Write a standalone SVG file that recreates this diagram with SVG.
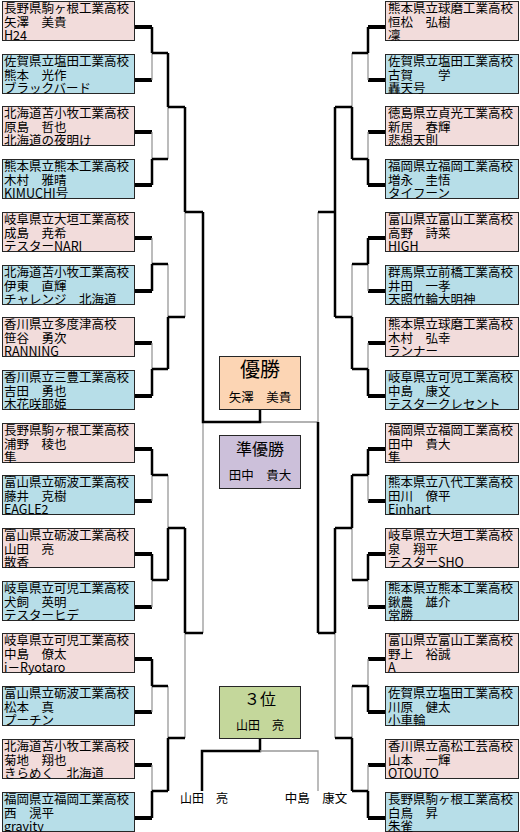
<svg xmlns="http://www.w3.org/2000/svg" width="520" height="832" viewBox="0 0 520 832">
<style>
.pink{fill:#f2dcdb}
.blue{fill:#b7dee8}
.box{stroke:#262626;stroke-width:1}
.t{font-family:"Noto Sans CJK JP","Noto Sans CJK SC",sans-serif;font-size:12.5px;fill:#000}
.c{font-family:"Noto Sans CJK JP","Noto Sans CJK SC",sans-serif;fill:#000;text-anchor:middle}
.stub{stroke:#000;stroke-width:4;fill:none}
.win{stroke:#000;stroke-width:2.5;fill:none}
.lose{stroke:#999;stroke-width:1.3;fill:none}
</style>
<rect width="520" height="832" fill="#fff"/>
<g id="connectors">
<path class="stub" d="M135 27H152M135 80H152M135 132H152M135 185H152M135 238H152M135 291H152M135 343H152M135 396H152M135 449H152M135 501H152M135 554H152M135 607H152M135 659H152M135 712H152M135 765H152M135 818H152"/>
<path class="stub" d="M385 27H368M385 80H368M385 132H368M385 185H368M385 238H368M385 291H368M385 343H368M385 396H368M385 449H368M385 501H368M385 554H368M385 607H368M385 659H368M385 712H368M385 765H368M385 818H368"/>
<path class="lose" d="M152 53V80M152 132V159M152 238V264M152 343V369M152 475V501M152 580V607M152 686V712M152 765V791M168 107V159M168 264V317M168 475V528M168 686V738M185 212V317M185 633V738M203 422V633"/>
<path class="lose" d="M368 53V80M368 132V159M368 264V291M368 343V369M368 475V501M368 580V607M368 659V686M368 765V791M352 53V107M352 264V317M352 528V580M352 686V738M335 633V738M318 212V422M260 422H318"/>
<path class="win" d="M152 27V53M152 159V185M152 264V291M152 369V396M152 449V475M152 554V580M152 659V686M152 791V818M152 53H168M152 159H168M152 264H168M152 369H168M152 475H168M152 580H168M152 686H168M152 791H168M168 53V107M168 317V369M168 528V580M168 738V791M168 107H185M168 317H185M168 528H185M168 738H185M185 107V212M185 528V633M185 212H203M185 633H203M203 212V422H260V409"/>
<path class="win" d="M368 27V53M368 159V185M368 238V264M368 369V396M368 449V475M368 554V580M368 686V712M368 791V818M368 53H352M368 159H352M368 264H352M368 369H352M368 475H352M368 580H352M368 686H352M368 791H352M352 107V159M352 317V369M352 475V528M352 738V791M352 107H335M352 317H335M352 528H335M352 738H335M335 107V317M335 528V633M335 212H318M335 633H318M318 633V422"/>
<path class="win" d="M260 739V751H202V791"/>
<path class="lose" d="M260 751H318V791"/>
</g>
<g id="L1"><rect class="box pink" x="2.5" y="1.5" width="132" height="39"/><text class="t"><tspan x="4" y="13">長野県駒ヶ根工業高校</tspan><tspan x="4" y="26.5">矢澤　美貴</tspan><tspan x="4" y="39.5">H24</tspan></text></g>
<g id="L2"><rect class="box blue" x="2.5" y="54.5" width="132" height="39"/><text class="t"><tspan x="4" y="66">佐賀県立塩田工業高校</tspan><tspan x="4" y="79.5">熊本　光作</tspan><tspan x="4" y="92.5">ブラックバード</tspan></text></g>
<g id="L3"><rect class="box pink" x="2.5" y="106.5" width="132" height="39"/><text class="t"><tspan x="4" y="118">北海道苫小牧工業高校</tspan><tspan x="4" y="131.5">原島　哲也</tspan><tspan x="4" y="144.5">北海道の夜明け</tspan></text></g>
<g id="L4"><rect class="box blue" x="2.5" y="159.5" width="132" height="39"/><text class="t"><tspan x="4" y="171">熊本県立熊本工業高校</tspan><tspan x="4" y="184.5">木村　雅晴</tspan><tspan x="4" y="197.5">KIMUCHI号</tspan></text></g>
<g id="L5"><rect class="box pink" x="2.5" y="212.5" width="132" height="39"/><text class="t"><tspan x="4" y="224">岐阜県立大垣工業高校</tspan><tspan x="4" y="237.5">成島　尭希</tspan><tspan x="4" y="250.5">テスターNARI</tspan></text></g>
<g id="L6"><rect class="box blue" x="2.5" y="265.5" width="132" height="39"/><text class="t"><tspan x="4" y="277">北海道苫小牧工業高校</tspan><tspan x="4" y="290.5">伊東　直輝</tspan><tspan x="4" y="303.5">チャレンジ　北海道</tspan></text></g>
<g id="L7"><rect class="box pink" x="2.5" y="317.5" width="132" height="39"/><text class="t"><tspan x="4" y="329">香川県立多度津高校</tspan><tspan x="4" y="342.5">笹谷　勇次</tspan><tspan x="4" y="355.5">RANNING</tspan></text></g>
<g id="L8"><rect class="box blue" x="2.5" y="370.5" width="132" height="39"/><text class="t"><tspan x="4" y="382">香川県立三豊工業高校</tspan><tspan x="4" y="395.5">吉田　勇也</tspan><tspan x="4" y="408.5">木花咲耶姫</tspan></text></g>
<g id="L9"><rect class="box pink" x="2.5" y="423.5" width="132" height="39"/><text class="t"><tspan x="4" y="435">長野県駒ヶ根工業高校</tspan><tspan x="4" y="448.5">浦野　稜也</tspan><tspan x="4" y="461.5">隼</tspan></text></g>
<g id="L10"><rect class="box blue" x="2.5" y="475.5" width="132" height="39"/><text class="t"><tspan x="4" y="487">富山県立砺波工業高校</tspan><tspan x="4" y="500.5">藤井　克樹</tspan><tspan x="4" y="513.5">EAGLE2</tspan></text></g>
<g id="L11"><rect class="box pink" x="2.5" y="528.5" width="132" height="39"/><text class="t"><tspan x="4" y="540">富山県立砺波工業高校</tspan><tspan x="4" y="553.5">山田　亮</tspan><tspan x="4" y="566.5">散香</tspan></text></g>
<g id="L12"><rect class="box blue" x="2.5" y="581.5" width="132" height="39"/><text class="t"><tspan x="4" y="593">岐阜県立可児工業高校</tspan><tspan x="4" y="606.5">犬飼　英明</tspan><tspan x="4" y="619.5">テスターヒデ</tspan></text></g>
<g id="L13"><rect class="box pink" x="2.5" y="633.5" width="132" height="39"/><text class="t"><tspan x="4" y="645">岐阜県立可児工業高校</tspan><tspan x="4" y="658.5">中島　僚太</tspan><tspan x="4" y="671.5">i－Ryotaro</tspan></text></g>
<g id="L14"><rect class="box blue" x="2.5" y="686.5" width="132" height="39"/><text class="t"><tspan x="4" y="698">富山県立砺波工業高校</tspan><tspan x="4" y="711.5">松本　真</tspan><tspan x="4" y="724.5">プーチン</tspan></text></g>
<g id="L15"><rect class="box pink" x="2.5" y="739.5" width="132" height="39"/><text class="t"><tspan x="4" y="751">北海道苫小牧工業高校</tspan><tspan x="4" y="764.5">菊地　翔也</tspan><tspan x="4" y="777.5">きらめく　北海道</tspan></text></g>
<g id="L16"><rect class="box blue" x="2.5" y="792.5" width="132" height="39"/><text class="t"><tspan x="4" y="804">福岡県立福岡工業高校</tspan><tspan x="4" y="817.5">西　滉平</tspan><tspan x="4" y="830.5">gravity</tspan></text></g>
<g id="R1"><rect class="box pink" x="385.5" y="1.5" width="133" height="39"/><text class="t"><tspan x="388" y="13">熊本県立球磨工業高校</tspan><tspan x="388" y="26.5">恒松　弘樹</tspan><tspan x="388" y="39.5">凜</tspan></text></g>
<g id="R2"><rect class="box blue" x="385.5" y="54.5" width="133" height="39"/><text class="t"><tspan x="388" y="66">佐賀県立塩田工業高校</tspan><tspan x="388" y="79.5">古賀　　学</tspan><tspan x="388" y="92.5">轟天号</tspan></text></g>
<g id="R3"><rect class="box pink" x="385.5" y="106.5" width="133" height="39"/><text class="t"><tspan x="388" y="118">徳島県立貞光工業高校</tspan><tspan x="388" y="131.5">新居　春輝</tspan><tspan x="388" y="144.5">悲想天則</tspan></text></g>
<g id="R4"><rect class="box blue" x="385.5" y="159.5" width="133" height="39"/><text class="t"><tspan x="388" y="171">福岡県立福岡工業高校</tspan><tspan x="388" y="184.5">増永　圭悟</tspan><tspan x="388" y="197.5">タイフーン</tspan></text></g>
<g id="R5"><rect class="box pink" x="385.5" y="212.5" width="133" height="39"/><text class="t"><tspan x="388" y="224">富山県立富山工業高校</tspan><tspan x="388" y="237.5">高野　詩菜</tspan><tspan x="388" y="250.5">HIGH</tspan></text></g>
<g id="R6"><rect class="box blue" x="385.5" y="265.5" width="133" height="39"/><text class="t"><tspan x="388" y="277">群馬県立前橋工業高校</tspan><tspan x="388" y="290.5">井田　一孝</tspan><tspan x="388" y="303.5">天照竹輪大明神</tspan></text></g>
<g id="R7"><rect class="box pink" x="385.5" y="317.5" width="133" height="39"/><text class="t"><tspan x="388" y="329">熊本県立球磨工業高校</tspan><tspan x="388" y="342.5">木村　弘幸</tspan><tspan x="388" y="355.5">ランナー</tspan></text></g>
<g id="R8"><rect class="box blue" x="385.5" y="370.5" width="133" height="39"/><text class="t"><tspan x="388" y="382">岐阜県立可児工業高校</tspan><tspan x="388" y="395.5">中島　康文</tspan><tspan x="388" y="408.5">テスタークレセント</tspan></text></g>
<g id="R9"><rect class="box pink" x="385.5" y="423.5" width="133" height="39"/><text class="t"><tspan x="388" y="435">福岡県立福岡工業高校</tspan><tspan x="388" y="448.5">田中　貴大</tspan><tspan x="388" y="461.5">隼</tspan></text></g>
<g id="R10"><rect class="box blue" x="385.5" y="475.5" width="133" height="39"/><text class="t"><tspan x="388" y="487">熊本県立八代工業高校</tspan><tspan x="388" y="500.5">田川　僚平</tspan><tspan x="388" y="513.5">Einhart</tspan></text></g>
<g id="R11"><rect class="box pink" x="385.5" y="528.5" width="133" height="39"/><text class="t"><tspan x="388" y="540">岐阜県立大垣工業高校</tspan><tspan x="388" y="553.5">泉　翔平</tspan><tspan x="388" y="566.5">テスターSHO</tspan></text></g>
<g id="R12"><rect class="box blue" x="385.5" y="581.5" width="133" height="39"/><text class="t"><tspan x="388" y="593">熊本県立熊本工業高校</tspan><tspan x="388" y="606.5">鍬農　雄介</tspan><tspan x="388" y="619.5">常勝</tspan></text></g>
<g id="R13"><rect class="box pink" x="385.5" y="633.5" width="133" height="39"/><text class="t"><tspan x="388" y="645">富山県立富山工業高校</tspan><tspan x="388" y="658.5">野上　裕誠</tspan><tspan x="388" y="671.5">A</tspan></text></g>
<g id="R14"><rect class="box blue" x="385.5" y="686.5" width="133" height="39"/><text class="t"><tspan x="388" y="698">佐賀県立塩田工業高校</tspan><tspan x="388" y="711.5">川原　健太</tspan><tspan x="388" y="724.5">小車輪</tspan></text></g>
<g id="R15"><rect class="box pink" x="385.5" y="739.5" width="133" height="39"/><text class="t"><tspan x="388" y="751">香川県立高松工芸高校</tspan><tspan x="388" y="764.5">山本　一輝</tspan><tspan x="388" y="777.5">OTOUTO</tspan></text></g>
<g id="R16"><rect class="box blue" x="385.5" y="792.5" width="133" height="39"/><text class="t"><tspan x="388" y="804">長野県駒ヶ根工業高校</tspan><tspan x="388" y="817.5">白鳥　昇</tspan><tspan x="388" y="830.5">朱雀</tspan></text></g>
<g id="champion"><rect class="box" fill="#fcd5b4" x="219.5" y="356.5" width="81" height="53"/><text class="c" x="260" y="377" font-size="20">優勝</text><text class="c" x="260" y="402" font-size="12.5">矢澤　美貴</text></g>
<g id="runnerup"><rect class="box" fill="#ccc0da" x="219.5" y="435.5" width="81" height="53"/><text class="c" x="260" y="455" font-size="16">準優勝</text><text class="c" x="260" y="480" font-size="12.5">田中　貴大</text></g>
<g id="third"><rect class="box" fill="#c4d79b" x="219.5" y="686.5" width="81" height="52"/><text class="c" x="260" y="705" font-size="16">３位</text><text class="c" x="260" y="730" font-size="12">山田　亮</text></g>
<g id="third-left"><text class="c" x="204" y="803" font-size="12">山田　亮</text></g>
<g id="third-right"><text class="c" x="316" y="803" font-size="12.5">中島　康文</text></g>
</svg>
